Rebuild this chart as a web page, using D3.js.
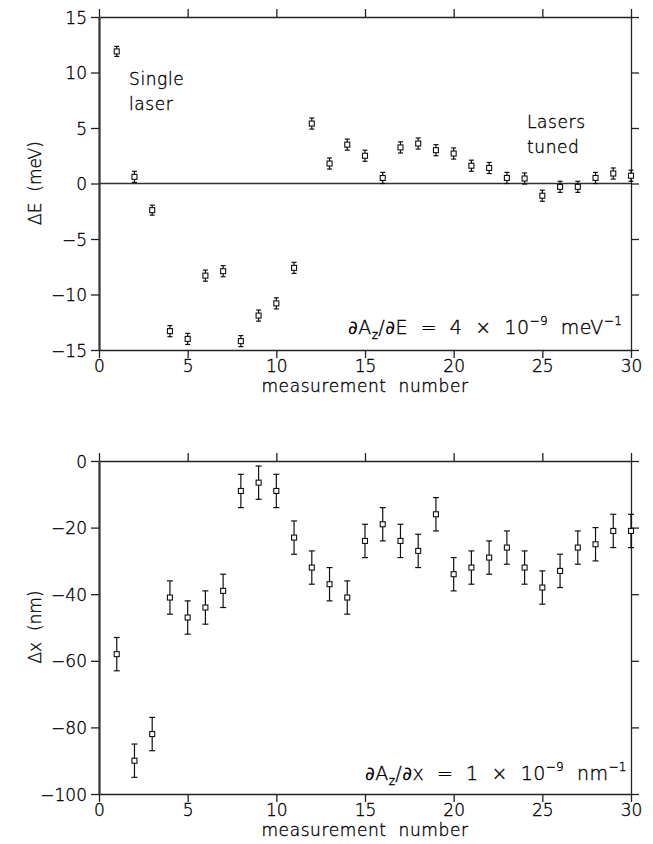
<!DOCTYPE html>
<html>
<head>
<meta charset="utf-8">
<title>measurement shifts</title>
<script src="https://cdn.jsdelivr.net/npm/d3@7"></script>
<style>
  body { margin: 0; background: #fff; }
  svg text { font-family: "DejaVu Sans", sans-serif; font-weight: 200; fill: #000; stroke: #000; stroke-width: 0.35; }
</style>
</head>
<body>
<script>
// measurement index 1..30
var measurement = [1,2,3,4,5,6,7,8,9,10,11,12,13,14,15,16,17,18,19,20,21,22,23,24,25,26,27,28,29,30];

// top panel: energy shift (meV) and its error
var deltaE = [11.9, 0.6, -2.4, -13.3, -14.0, -8.3, -7.9, -14.2, -11.9, -10.8,
              -7.6, 5.4, 1.8, 3.5, 2.5, 0.5, 3.25, 3.6, 3.0, 2.7,
              1.6, 1.4, 0.5, 0.45, -1.1, -0.3, -0.3, 0.5, 0.9, 0.7];
var deltaEerr = [0.45, 0.5, 0.45, 0.5, 0.5, 0.5, 0.5, 0.5, 0.5, 0.5,
                 0.5, 0.5, 0.5, 0.5, 0.5, 0.5, 0.5, 0.5, 0.5, 0.5,
                 0.5, 0.5, 0.5, 0.5, 0.5, 0.5, 0.5, 0.5, 0.5, 0.5];

// bottom panel: position shift (nm) and its error
var deltaX = [-58, -90, -82, -41, -47, -44, -39, -9, -6.5, -9,
              -23, -32, -37, -41, -24, -19, -24, -27, -16, -34,
              -32, -29, -26, -32, -38, -33, -26, -25, -21, -21];
var deltaXerr = [5, 5, 5, 5, 5, 5, 5, 5, 5, 5,
                 5, 5, 5, 5, 5, 5, 5, 5, 5, 5,
                 5, 5, 5, 5, 5, 5, 5, 5, 5, 5];

var xTicks = [0, 5, 10, 15, 20, 25, 30];
var yTicksTop = [-15, -10, -5, 0, 5, 10, 15];
var yTicksBottom = [-100, -80, -60, -40, -20, 0];

var W = 653, H = 844;
var svg = d3.select("body").append("svg").attr("width", W).attr("height", H);

var fmt = function(d){ return String(d).replace("-", "\u2212"); };

function panel(opt) {
  var g = svg.append("g");
  var x = d3.scaleLinear().domain([0, 30]).range([99, 631]);
  var y = d3.scaleLinear().domain(opt.ydomain).range([opt.bottom, opt.top]);

  var tick = 8;
  // axes: ticks point outwards on all four sides
  var bx = g.append("g").attr("transform", "translate(0," + opt.bottom + ")")
    .call(d3.axisBottom(x).tickValues(xTicks).tickSize(tick).tickSizeOuter(0).tickFormat(fmt));
  var tx = g.append("g").attr("transform", "translate(0," + opt.top + ")")
    .call(d3.axisTop(x).tickValues(xTicks).tickSize(tick).tickSizeOuter(0).tickFormat(""));
  var ly = g.append("g").attr("transform", "translate(99,0)")
    .call(d3.axisLeft(y).tickValues(opt.yticks).tickSize(tick).tickSizeOuter(0).tickFormat(fmt));
  var ry = g.append("g").attr("transform", "translate(631,0)")
    .call(d3.axisRight(y).tickValues(opt.yticks).tickSize(tick).tickSizeOuter(0).tickFormat(""));

  [bx, tx, ly, ry].forEach(function(a){
    a.selectAll("path").attr("stroke", "#222").attr("stroke-width", 1.3);
    a.selectAll("line").attr("stroke", "#222").attr("stroke-width", 1.3);
    a.selectAll("text").attr("font-size", 17).attr("font-family", "DejaVu Sans, sans-serif")
      .attr("font-weight", 200).attr("fill", "#000");
  });
  ly.select("path").attr("stroke", "#333").attr("stroke-width", 2.2);
  ly.selectAll("text").attr("x", -12).attr("dy", "0.36em");
  bx.selectAll("text").attr("y", 10);

  if (opt.zeroLine) {
    g.append("line").attr("x1", x(0)).attr("x2", x(30)).attr("y1", y(0)).attr("y2", y(0))
      .attr("stroke", "#333").attr("stroke-width", 1.3);
  }

  // error bars
  var cap = opt.cap, sq = opt.sq;
  var pts = g.append("g").selectAll("g").data(measurement).enter().append("g");
  pts.append("line")
    .attr("x1", function(d){ return x(d); }).attr("x2", function(d){ return x(d); })
    .attr("y1", function(d, i){ return y(opt.vals[i] - opt.errs[i]); })
    .attr("y2", function(d, i){ return y(opt.vals[i] + opt.errs[i]); })
    .attr("stroke", "#111").attr("stroke-width", 1.2);
  [-1, 1].forEach(function(s){
    pts.append("line")
      .attr("x1", function(d){ return x(d) - cap; }).attr("x2", function(d){ return x(d) + cap; })
      .attr("y1", function(d, i){ return y(opt.vals[i] + s * opt.errs[i]); })
      .attr("y2", function(d, i){ return y(opt.vals[i] + s * opt.errs[i]); })
      .attr("stroke", "#111").attr("stroke-width", 1.2);
  });
  pts.append("rect")
    .attr("x", function(d){ return x(d) - sq / 2; })
    .attr("y", function(d, i){ return y(opt.vals[i]) - sq / 2; })
    .attr("width", sq).attr("height", sq)
    .attr("fill", "#fff").attr("stroke", "#111").attr("stroke-width", 1.1);

  // axis titles
  g.append("text").attr("x", 365).attr("y", opt.bottom + 42).attr("text-anchor", "middle")
    .attr("font-size", 17).attr("letter-spacing", 0.6).attr("xml:space", "preserve")
    .text("measurement  number");
  g.append("text").attr("transform", "translate(" + 41 + "," + opt.ylabelY + ") rotate(-90)")
    .attr("text-anchor", "middle").attr("font-size", 17).attr("xml:space", "preserve")
    .text(opt.ylabel);

  return { x: x, y: y, g: g };
}

var topPanel = panel({ ydomain: [-15, 15], top: 17, bottom: 350, yticks: yTicksTop,
  vals: deltaE, errs: deltaEerr, zeroLine: true, cap: 2.5, sq: 5,
  ylabel: "\u0394E  (meV)", ylabelY: 183 });

var botPanel = panel({ ydomain: [-100, 0], top: 461, bottom: 794, yticks: yTicksBottom,
  vals: deltaX, errs: deltaXerr, zeroLine: false, cap: 3, sq: 5,
  ylabel: "\u0394x  (nm)", ylabelY: 627 });

// annotations
function note(g, x, y, lines) {
  lines.forEach(function(t, i){
    g.append("text").attr("x", x).attr("y", y + i * 25).attr("font-size", 17)
      .attr("letter-spacing", 0.6).text(t);
  });
}
note(topPanel.g, 129, 85, ["Single", "laser"]);
note(topPanel.g, 527, 128, ["Lasers", "tuned"]);

function formula(g, x, y, denom, num, unit) {
  var t = g.append("text").attr("x", x).attr("y", y).attr("font-size", 19)
    .attr("letter-spacing", 0.4).attr("xml:space", "preserve");
  t.append("tspan").attr("font-weight", 400).attr("stroke-width", 0).text("\u2202");
  t.append("tspan").text("A");
  t.append("tspan").attr("font-size", 12).attr("dy", 5).text("z");
  t.append("tspan").attr("dy", -5).text("/");
  t.append("tspan").attr("font-weight", 400).attr("stroke-width", 0).text("\u2202");
  t.append("tspan").text(denom + "  =  " + num + "  \u00d7  10");
  t.append("tspan").attr("font-size", 12).attr("dy", -9).text("\u22129");
  t.append("tspan").attr("dy", 9).text("  " + unit);
  t.append("tspan").attr("font-size", 12).attr("dy", -9).text("\u22121");
}
formula(topPanel.g, 348, 334, "E", "4", "meV");
formula(botPanel.g, 365, 780, "x", "1", "nm");
</script>
</body>
</html>
